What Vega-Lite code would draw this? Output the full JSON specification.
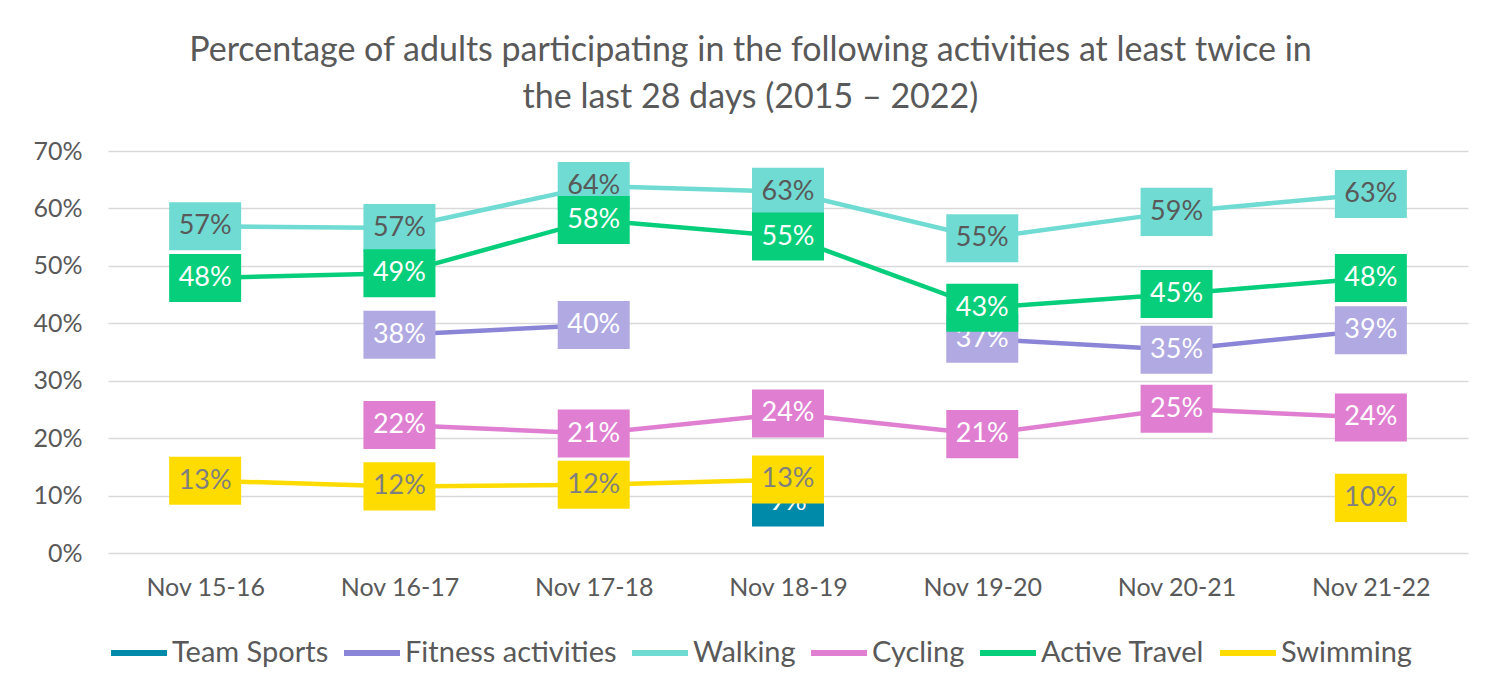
{
  "$schema": "https://vega.github.io/schema/vega-lite/v6.json",
  "width": 1360,
  "height": 402,
  "padding": {"left": 32, "top": 34, "right": 28, "bottom": 10},
  "background": "white",
  "config": {"font": "Lato", "view": {"stroke": null}},
  "title": {
    "text": ["Percentage of adults participating in the following activities at least twice in", "the last 28 days (2015 – 2022)"],
    "fontSize": 34, "fontWeight": "normal", "color": "#595959",
    "anchor": "middle", "frame": "bounds", "lineHeight": 47, "offset": 24
  },
  "data": {"values": [
    {"period": "Nov 18-19", "series": "Team Sports", "value": 0.088},
    {"period": "Nov 16-17", "series": "Fitness activities", "value": 0.38},
    {"period": "Nov 17-18", "series": "Fitness activities", "value": 0.397},
    {"period": "Nov 18-19", "series": "Fitness activities", "value": null},
    {"period": "Nov 19-20", "series": "Fitness activities", "value": 0.373},
    {"period": "Nov 20-21", "series": "Fitness activities", "value": 0.354},
    {"period": "Nov 21-22", "series": "Fitness activities", "value": 0.388},
    {"period": "Nov 15-16", "series": "Walking", "value": 0.569},
    {"period": "Nov 16-17", "series": "Walking", "value": 0.566},
    {"period": "Nov 17-18", "series": "Walking", "value": 0.639},
    {"period": "Nov 18-19", "series": "Walking", "value": 0.629},
    {"period": "Nov 19-20", "series": "Walking", "value": 0.548},
    {"period": "Nov 20-21", "series": "Walking", "value": 0.594},
    {"period": "Nov 21-22", "series": "Walking", "value": 0.625},
    {"period": "Nov 16-17", "series": "Cycling", "value": 0.223},
    {"period": "Nov 17-18", "series": "Cycling", "value": 0.208},
    {"period": "Nov 18-19", "series": "Cycling", "value": 0.243},
    {"period": "Nov 19-20", "series": "Cycling", "value": 0.207},
    {"period": "Nov 20-21", "series": "Cycling", "value": 0.251},
    {"period": "Nov 21-22", "series": "Cycling", "value": 0.236},
    {"period": "Nov 15-16", "series": "Active Travel", "value": 0.479},
    {"period": "Nov 16-17", "series": "Active Travel", "value": 0.487},
    {"period": "Nov 17-18", "series": "Active Travel", "value": 0.58},
    {"period": "Nov 18-19", "series": "Active Travel", "value": 0.551},
    {"period": "Nov 19-20", "series": "Active Travel", "value": 0.427},
    {"period": "Nov 20-21", "series": "Active Travel", "value": 0.451},
    {"period": "Nov 21-22", "series": "Active Travel", "value": 0.479},
    {"period": "Nov 15-16", "series": "Swimming", "value": 0.126},
    {"period": "Nov 16-17", "series": "Swimming", "value": 0.116},
    {"period": "Nov 17-18", "series": "Swimming", "value": 0.119},
    {"period": "Nov 18-19", "series": "Swimming", "value": 0.128},
    {"period": "Nov 19-20", "series": "Swimming", "value": null},
    {"period": "Nov 20-21", "series": "Swimming", "value": null},
    {"period": "Nov 21-22", "series": "Swimming", "value": 0.096}
  ]},
  "encoding": {
    "x": {
      "field": "period", "type": "nominal",
      "sort": ["Nov 15-16", "Nov 16-17", "Nov 17-18", "Nov 18-19", "Nov 19-20", "Nov 20-21", "Nov 21-22"],
      "scale": {"type": "point", "padding": 0.5},
      "axis": {"title": null, "labelAngle": 0, "labelFontSize": 25, "labelColor": "#595959", "labelPadding": 22, "ticks": false, "domain": false, "grid": false}
    },
    "y": {
      "field": "value", "type": "quantitative",
      "scale": {"domain": [0, 0.7], "nice": false, "zero": true},
      "axis": {"title": null, "values": [0, 0.1, 0.2, 0.3, 0.4, 0.5, 0.6, 0.7], "format": ".0%", "labelFontSize": 25, "labelColor": "#595959", "labelPadding": 26, "ticks": false, "domain": false, "grid": true, "gridColor": "#D9D9D9", "gridWidth": 1.5}
    }
  },
  "layer": [
    {
      "mark": {"type": "line", "strokeWidth": 4.5, "invalid": "break-paths-filter-domains"},
      "encoding": {
        "color": {
          "field": "series", "type": "nominal",
          "scale": {"domain": ["Team Sports", "Fitness activities", "Walking", "Cycling", "Active Travel", "Swimming"],
                    "range": ["#008AAA", "#8B85D8", "#6FDBD3", "#E07FD1", "#07CE7B", "#FFDC00"]},
          "legend": {"title": null, "orient": "bottom", "direction": "horizontal", "symbolType": "stroke", "symbolSize": 3136, "symbolStrokeWidth": 6, "labelFontSize": 29, "labelColor": "#595959", "labelLimit": 500, "columnPadding": 3, "labelOffset": 2, "offset": 22}
        }
      }
    },
    {
      "transform": [{"filter": "datum.series === 'Team Sports' && isValid(datum.value)"}],
      "layer": [
        {"mark": {"type": "point", "shape": "M-1,-0.667L1,-0.667L1,0.667L-1,0.667Z", "size": 5184, "filled": true, "opacity": 1, "strokeWidth": 0, "color": "#008AAA"}},
        {"mark": {"type": "text", "fontSize": 27, "baseline": "middle", "align": "center", "color": "#FFFFFF"}, "encoding": {"text": {"field": "value", "type": "quantitative", "format": ".0%"}}}
      ]
    },
    {
      "transform": [{"filter": "datum.series === 'Fitness activities' && isValid(datum.value)"}],
      "layer": [
        {"mark": {"type": "point", "shape": "M-1,-0.667L1,-0.667L1,0.667L-1,0.667Z", "size": 5184, "filled": true, "opacity": 1, "strokeWidth": 0, "color": "#B0A9E2"}},
        {"mark": {"type": "text", "fontSize": 27, "baseline": "middle", "align": "center", "color": "#FFFFFF"}, "encoding": {"text": {"field": "value", "type": "quantitative", "format": ".0%"}}}
      ]
    },
    {
      "transform": [{"filter": "datum.series === 'Walking' && isValid(datum.value)"}],
      "layer": [
        {"mark": {"type": "point", "shape": "M-1,-0.667L1,-0.667L1,0.667L-1,0.667Z", "size": 5184, "filled": true, "opacity": 1, "strokeWidth": 0, "color": "#6FDBD3"}},
        {"mark": {"type": "text", "fontSize": 27, "baseline": "middle", "align": "center", "color": "#595959"}, "encoding": {"text": {"field": "value", "type": "quantitative", "format": ".0%"}}}
      ]
    },
    {
      "transform": [{"filter": "datum.series === 'Cycling' && isValid(datum.value)"}],
      "layer": [
        {"mark": {"type": "point", "shape": "M-1,-0.667L1,-0.667L1,0.667L-1,0.667Z", "size": 5184, "filled": true, "opacity": 1, "strokeWidth": 0, "color": "#E07FD1"}},
        {"mark": {"type": "text", "fontSize": 27, "baseline": "middle", "align": "center", "color": "#FFFFFF"}, "encoding": {"text": {"field": "value", "type": "quantitative", "format": ".0%"}}}
      ]
    },
    {
      "transform": [{"filter": "datum.series === 'Active Travel' && isValid(datum.value)"}],
      "layer": [
        {"mark": {"type": "point", "shape": "M-1,-0.667L1,-0.667L1,0.667L-1,0.667Z", "size": 5184, "filled": true, "opacity": 1, "strokeWidth": 0, "color": "#07CE7B"}},
        {"mark": {"type": "text", "fontSize": 27, "baseline": "middle", "align": "center", "color": "#FFFFFF"}, "encoding": {"text": {"field": "value", "type": "quantitative", "format": ".0%"}}}
      ]
    },
    {
      "transform": [{"filter": "datum.series === 'Swimming' && isValid(datum.value)"}],
      "layer": [
        {"mark": {"type": "point", "shape": "M-1,-0.667L1,-0.667L1,0.667L-1,0.667Z", "size": 5184, "filled": true, "opacity": 1, "strokeWidth": 0, "color": "#FFDC00"}},
        {"mark": {"type": "text", "fontSize": 27, "baseline": "middle", "align": "center", "color": "#7F7F7F"}, "encoding": {"text": {"field": "value", "type": "quantitative", "format": ".0%"}}}
      ]
    }
  ]
}
